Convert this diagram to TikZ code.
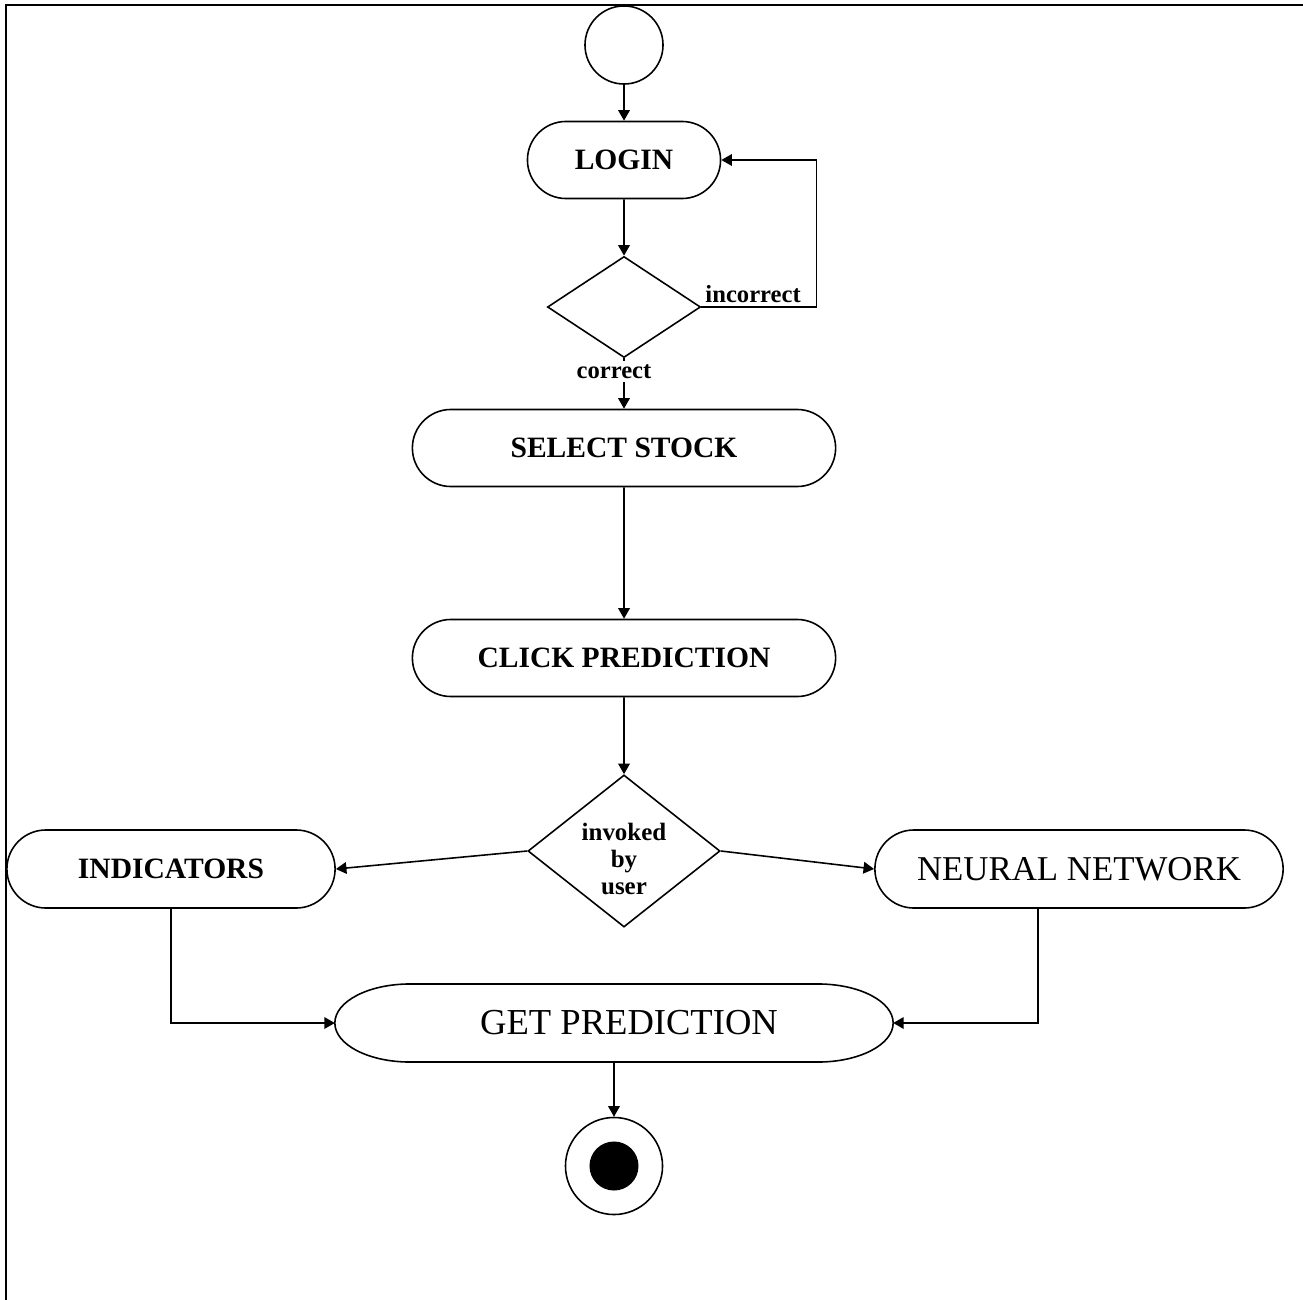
\documentclass[tikz,border=0pt]{standalone}
\usepackage{fontspec}
\setmainfont{Liberation Serif}
\usepackage{tikz}
\usetikzlibrary{shapes.geometric, shapes.misc, arrows.meta}

\begin{document}
\begin{tikzpicture}[x=0.01cm, y=-0.01cm, line width=0.45pt,
  actbox/.style={draw, rounded rectangle, inner sep=0pt, minimum height=0.77cm, font=\bfseries\fontsize{8.4}{10}\selectfont},
  choice/.style={draw, diamond, inner sep=0pt},
  arr/.style={-{Triangle[length=3pt,width=3.3pt]}},
  lbl/.style={font=\bfseries\fontsize{7}{8}\selectfont, inner sep=1pt}]
\useasboundingbox (0,0) rectangle (1303,1300);
\draw[line width=0.7pt] (6,1300) -- (6,5) -- (1303,5);

\node[draw, circle, minimum size=0.78cm, inner sep=0pt] (start) at (624,45) {};
\node[actbox, minimum width=1.93cm] (login) at (624,160) {LOGIN};
\node[choice, minimum width=1.53cm, minimum height=1.01cm] (check) at (624,307) {};
\node[actbox, minimum width=4.23cm] (stock) at (624,448) {SELECT STOCK};
\node[actbox, minimum width=4.23cm] (click) at (624,658) {CLICK PREDICTION};
\node[choice, minimum width=1.92cm, minimum height=1.52cm,
  label={[align=center, font=\bfseries\fontsize{7.1}{7.7}\selectfont, yshift=-0.08cm]center:{invoked\\by\\user}}] (invoke) at (624,851) {};
\node[actbox, minimum width=3.28cm, minimum height=0.78cm] (ind) at (171,869) {INDICATORS};
\node[actbox, minimum width=4.08cm, minimum height=0.78cm, font=\fontsize{9.9}{12}\selectfont] (nn) at (1079,869) {NEURAL NETWORK};
\node[rectangle, inner sep=0pt, outer sep=0pt, minimum width=5.58cm, minimum height=0.78cm, font=\fontsize{10.4}{12}\selectfont] (get) at (614,1023) {\hspace{0.3cm}GET PREDICTION};
\begin{scope}[x=1cm, y=1cm]
\draw ([xshift=0.75cm]get.north west) -- ([xshift=-0.75cm]get.north east)
  arc[start angle=90, end angle=-90, x radius=0.75, y radius=0.39]
  -- ([xshift=0.75cm]get.south west)
  arc[start angle=270, end angle=90, x radius=0.75, y radius=0.39] -- cycle;
\end{scope}
\node[draw, circle, minimum size=0.97cm, inner sep=0pt,
  path picture={\fill (path picture bounding box.center) circle (0.245cm);}] (end) at (614,1166) {};

\draw[arr] (start) -- (login);
\draw[arr] (login) -- (check);
\draw[arr] (check.east) -- node[lbl, above, pos=.45]{incorrect} ++(115,0) |- (login.east);
\draw[arr] (check.south) -- node[lbl, fill=white, pos=.27, xshift=-0.1cm]{correct} (stock.north);
\draw[arr] (stock) -- (click);
\draw[arr] (click) -- (invoke);
\draw[arr] (invoke.west) -- (ind.east);
\draw[arr] (invoke.east) -- (nn.west);
\draw[arr] (ind.south) |- (get.west);
\draw[arr] ([xshift=-0.41cm]nn.south) |- (get.east);
\draw[arr] (get) -- (end);
\end{tikzpicture}
\end{document}
